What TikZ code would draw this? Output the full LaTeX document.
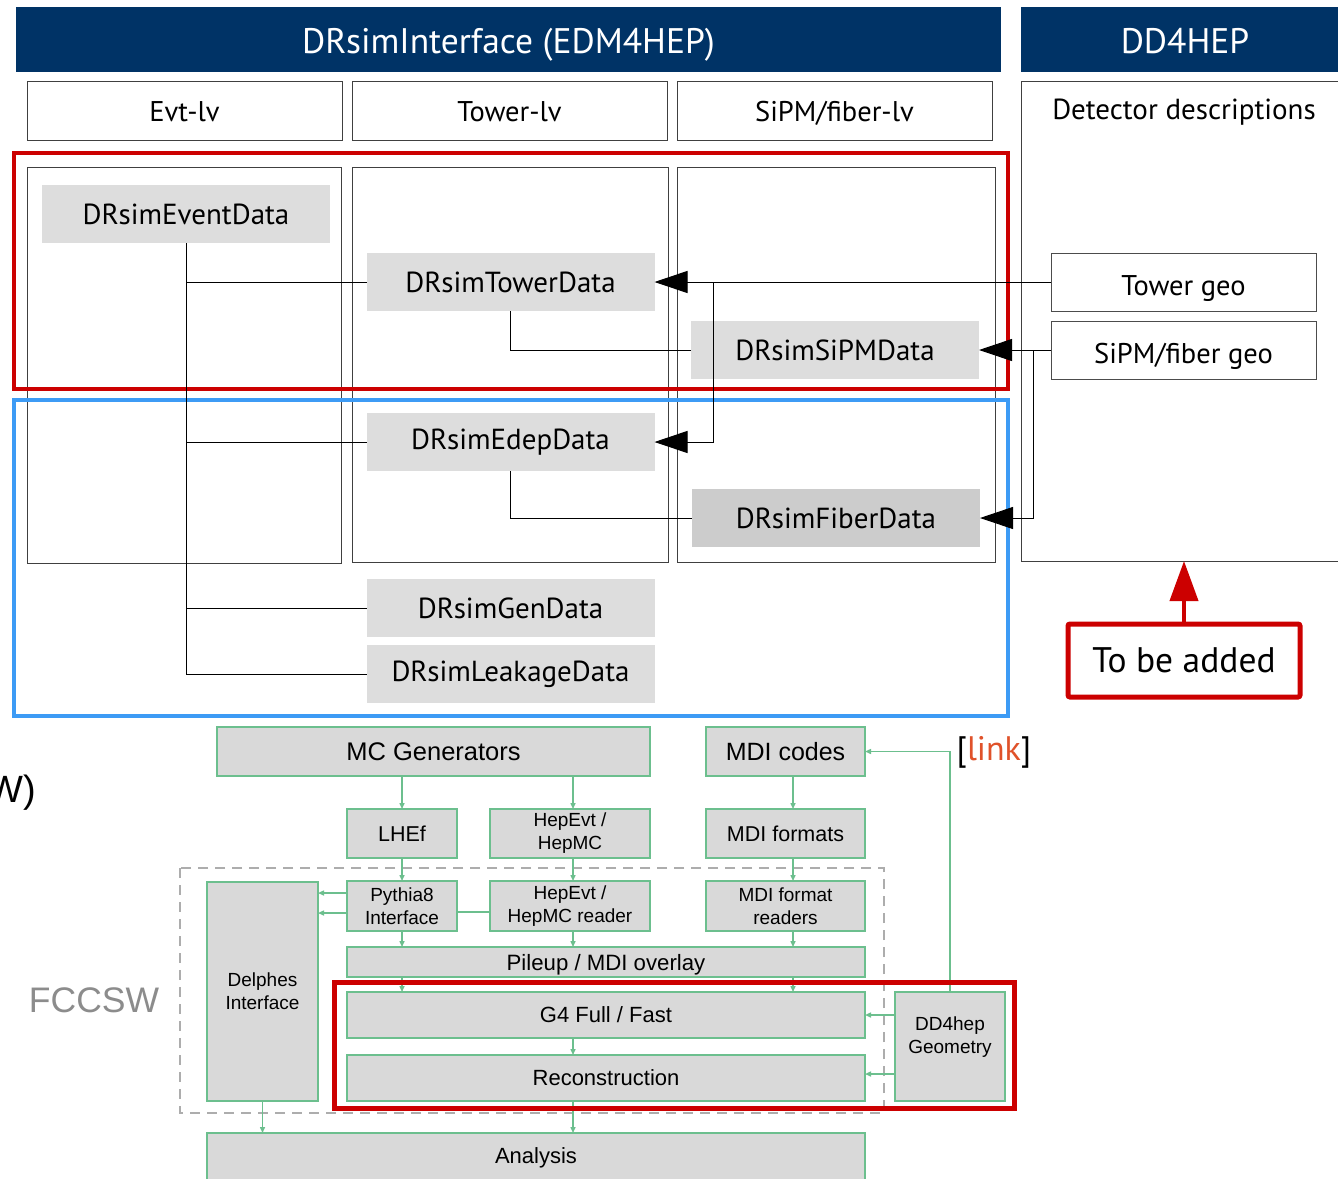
\documentclass[tikz,border=0pt]{standalone}
\usepackage{fontspec}
\setmainfont{PT Sans}
\newfontfamily\arialf{Liberation Sans}
\usetikzlibrary{arrows.meta}
\newcommand\fsz[1]{\fontsize{#1}{#1}\selectfont}
\newcommand\fszb[2]{\fontsize{#1}{#2}\selectfont}
\definecolor{navy}{HTML}{003366}
\definecolor{redc}{HTML}{CC0000}
\definecolor{bluec}{HTML}{3D9BF5}
\definecolor{grayfill}{HTML}{DDDDDD}
\definecolor{grayfill2}{HTML}{CCCCCC}
\definecolor{gbord}{HTML}{6CBF8E}
\definecolor{lfill}{HTML}{D9D9D9}
\definecolor{orangec}{HTML}{E0522A}
\begin{document}
\begin{tikzpicture}[x=1pt,y=-1pt,
  every node/.style={inner sep=0pt,outer sep=0pt},
  hdr/.style={fill=navy,text=white,font=\fsz{35.5},text height=27,text depth=0},
  colhdr/.style={draw=black!75,line width=1,fill=white,font=\fsz{28.5},text height=22,text depth=0},
  colbox/.style={draw=black!75,line width=1},
  dbox/.style={fill=grayfill,font=\fsz{29},minimum width=288,minimum height=58},
  geobox/.style={draw=black!70,line width=1,fill=white,font=\fsz{28.5},minimum width=265,minimum height=58,text height=27,text depth=0},
  conn/.style={draw=black,line width=1},
  bigarrow/.style={conn,-{Triangle[length=33,width=22]}},
  lbox/.style={draw=gbord,line width=1.2,fill=lfill,font=\arialf\fszb{19}{23},align=center},
  garr/.style={draw=gbord,line width=1.4,-{Triangle[length=6,width=5]}},
  gline/.style={draw=gbord,line width=1.4}
]
\clip (0,0) rectangle (1338,1178);
\useasboundingbox (0,0) rectangle (1338,1178);
\fill[white] (0,0) rectangle (1338,1178);

% headers
\node[hdr,minimum width=985,minimum height=65] (h1) at (508.5,39.5) {DRsimInterface (EDM4HEP)};
\node[hdr,minimum width=328,minimum height=65] (h2) at (1185,39.5) {DD4HEP};

\node[colhdr,minimum width=315,minimum height=59] (ca) at (184.5,110.5) {Evt-lv};
\node[colhdr,minimum width=315,minimum height=59] (cb) at (509.5,110.5) {Tower-lv};
\node[colhdr,minimum width=315,minimum height=59] (cc) at (834.5,110.5) {SiPM/fiber-lv};

\node[colbox,minimum width=329,minimum height=480] (det) at (1185.5,321) {};
\node[font=\fsz{29}] (dettxt) at (1184,112) {Detector descriptions};

\node[colbox,minimum width=314,minimum height=396] (ba) at (184,365) {};
\node[colbox,minimum width=316,minimum height=395] (bb) at (510,364.5) {};
\node[colbox,minimum width=318,minimum height=395] (bc) at (836,364.5) {};

% red / blue frames
\draw[redc,line width=3.5] (14,153) rectangle (1008,389);
\draw[bluec,line width=3.5] (14,400) rectangle (1008,716);

% data boxes
\node[dbox] (ev) at (186,214) {DRsimEventData};
\node[dbox] (tow) at (510.5,282) {DRsimTowerData};
\node[dbox] (sipm) at (835,350) {DRsimSiPMData};
\node[dbox] (edep) at (510.5,442) {DRsimEdepData};
\node[dbox,fill=grayfill2] (fib) at (836,518) {DRsimFiberData};
\node[dbox] (gen) at (510.5,608) {DRsimGenData};
\node[dbox] (leak) at (510.5,674) {DRsimLeakageData};

\node[geobox] (tgeo) at (1183.5,282) {Tower geo};
\node[geobox] (sgeo) at (1183.5,350) {SiPM/fiber geo};

% connectors
\draw[conn] (ev.south) -- (ev.south |- leak.west) -- (leak.west);
\draw[conn] (ev.south |- tow.west) -- (tow.west);
\draw[conn] (ev.south |- edep.west) -- (edep.west);
\draw[conn] (ev.south |- gen.west) -- (gen.west);
\draw[conn] (tow.south) |- (sipm.west);
\draw[conn] (edep.south) |- (fib.west);
\draw[bigarrow] (tgeo.west) -- (tow.east);
\coordinate (j1) at (713,282);
\draw[bigarrow] (j1) |- (edep.east);
\draw[bigarrow] (sgeo.west) -- (sipm.east);
\coordinate (j2) at (1033,350);
\draw[bigarrow] (j2) |- (fib.east);

% to be added
\node[draw=redc,line width=5,rounded corners=2,fill=white,minimum width=232,minimum height=73,font=\fsz{35.5}] (tba) at (1184,660.5) {To be added};
\draw[redc,line width=4,-{Triangle[length=40,width=28]}] (tba.north) -- (tba.north |- det.south);

% lower diagram
\draw[black!32,line width=2.5,dash pattern=on 10pt off 7pt] (180,868) rectangle (884,1113);

\node[lbox,font=\arialf\fsz{25.5},minimum width=433,minimum height=49] (mcg) at (433.5,751.5) {MC Generators};
\node[lbox,font=\arialf\fsz{25},minimum width=159,minimum height=49] (mdic) at (785.5,751.5) {MDI codes};
\node[lbox,font=\arialf\fsz{21.5},minimum width=110,minimum height=49] (lhef) at (402,833.5) {LHEf};
\node[lbox,minimum width=160,minimum height=49] (hep) at (570,833.5) {HepEvt /\\HepMC};
\node[lbox,font=\arialf\fsz{21.5},minimum width=159,minimum height=49] (mdif) at (785.5,833.5) {MDI formats};
\node[lbox,minimum width=111,minimum height=219] (delph) at (262.5,991.5) {Delphes\\Interface};
\node[lbox,minimum width=110,minimum height=50] (pyth) at (402,906) {Pythia8\\Interface};
\node[lbox,minimum width=160,minimum height=50] (hepr) at (570,906) {HepEvt /\\HepMC reader};
\node[lbox,minimum width=159,minimum height=50] (mdir) at (785.5,906) {MDI format\\readers};
\node[lbox,font=\arialf\fsz{22.2},minimum width=518,minimum height=30,text height=16,text depth=0] (pile) at (606,962) {Pileup / MDI overlay};
\node[lbox,font=\arialf\fsz{22},minimum width=518,minimum height=46] (g4) at (606,1015) {G4 Full / Fast};
\node[lbox,font=\arialf\fsz{22},minimum width=518,minimum height=46] (reco) at (606,1078) {Reconstruction};
\node[lbox,minimum width=110,minimum height=109] (dd4) at (950,1046.5) {};
\node[font=\arialf\fszb{19}{23},align=center] (dd4t) at (950,1037) {DD4hep\\Geometry};
\node[lbox,font=\arialf\fsz{22},minimum width=658,minimum height=50] (ana) at (536,1158) {Analysis};

\draw[garr] (mcg.south -| lhef.north) -- (lhef.north);
\draw[garr] ([xshift=3]mcg.south -| hep.north) -- ([xshift=3]hep.north);
\draw[garr] ([xshift=7.5]mdic.south) -- ([xshift=7.5]mdif.north);
\draw[garr] (lhef.south) -- (pyth.north);
\draw[garr] ([xshift=3]hep.south) -- ([xshift=3]hepr.north);
\draw[garr] ([xshift=7.5]mdif.south) -- ([xshift=7.5]mdir.north);
\draw[garr] ([yshift=13]pyth.west) -- ([yshift=13]pyth.west -| delph.east);
\draw[garr] ([yshift=-7]pyth.west) -- ([yshift=-7]pyth.west -| delph.east);
\draw[gline] ([yshift=-6]hepr.west) -- ([yshift=-6]hepr.west -| pyth.east);
\draw[garr] (pyth.south) -- (pyth.south |- pile.north);
\draw[garr] ([xshift=3]hepr.south) -- ([xshift=3]hepr.south |- pile.north);
\draw[garr] ([xshift=7.5]mdir.south) -- ([xshift=7.5]mdir.south |- pile.north);
\draw[garr] (pile.south -| pyth.south) -- (g4.north -| pyth.south);
\draw[garr] (pile.south -| mdir.south) ++(7.5,0) -- ++(0,15);
\draw[garr] ([xshift=3]g4.south -| hepr.south) -- ([xshift=3]reco.north -| hepr.south);
\draw[garr] (dd4.west |- g4.east) -- (g4.east);
\draw[garr] ([yshift=4]dd4.west |- reco.east) -- ([yshift=4]reco.east);
\draw[garr] (dd4.north) |- (mdic.east);
\draw[garr] (delph.south) -- (delph.south |- ana.north);
\draw[garr] ([xshift=3]reco.south -| hepr.south) -- ([xshift=3]ana.north -| hepr.south);

\draw[redc,line width=5] (334,982) rectangle (1014,1108);

\node[font=\arialf\fsz{35.5},text=black!45] (fcc) at (94,1000) {FCCSW};
\node[font=\arialf\fsz{38},anchor=east] (wpar) at (36,793) {W)};
\node[font=\fsz{34}] (lnk) at (994,752) {[\textcolor{orangec}{link}]};
\end{tikzpicture}
\end{document}
